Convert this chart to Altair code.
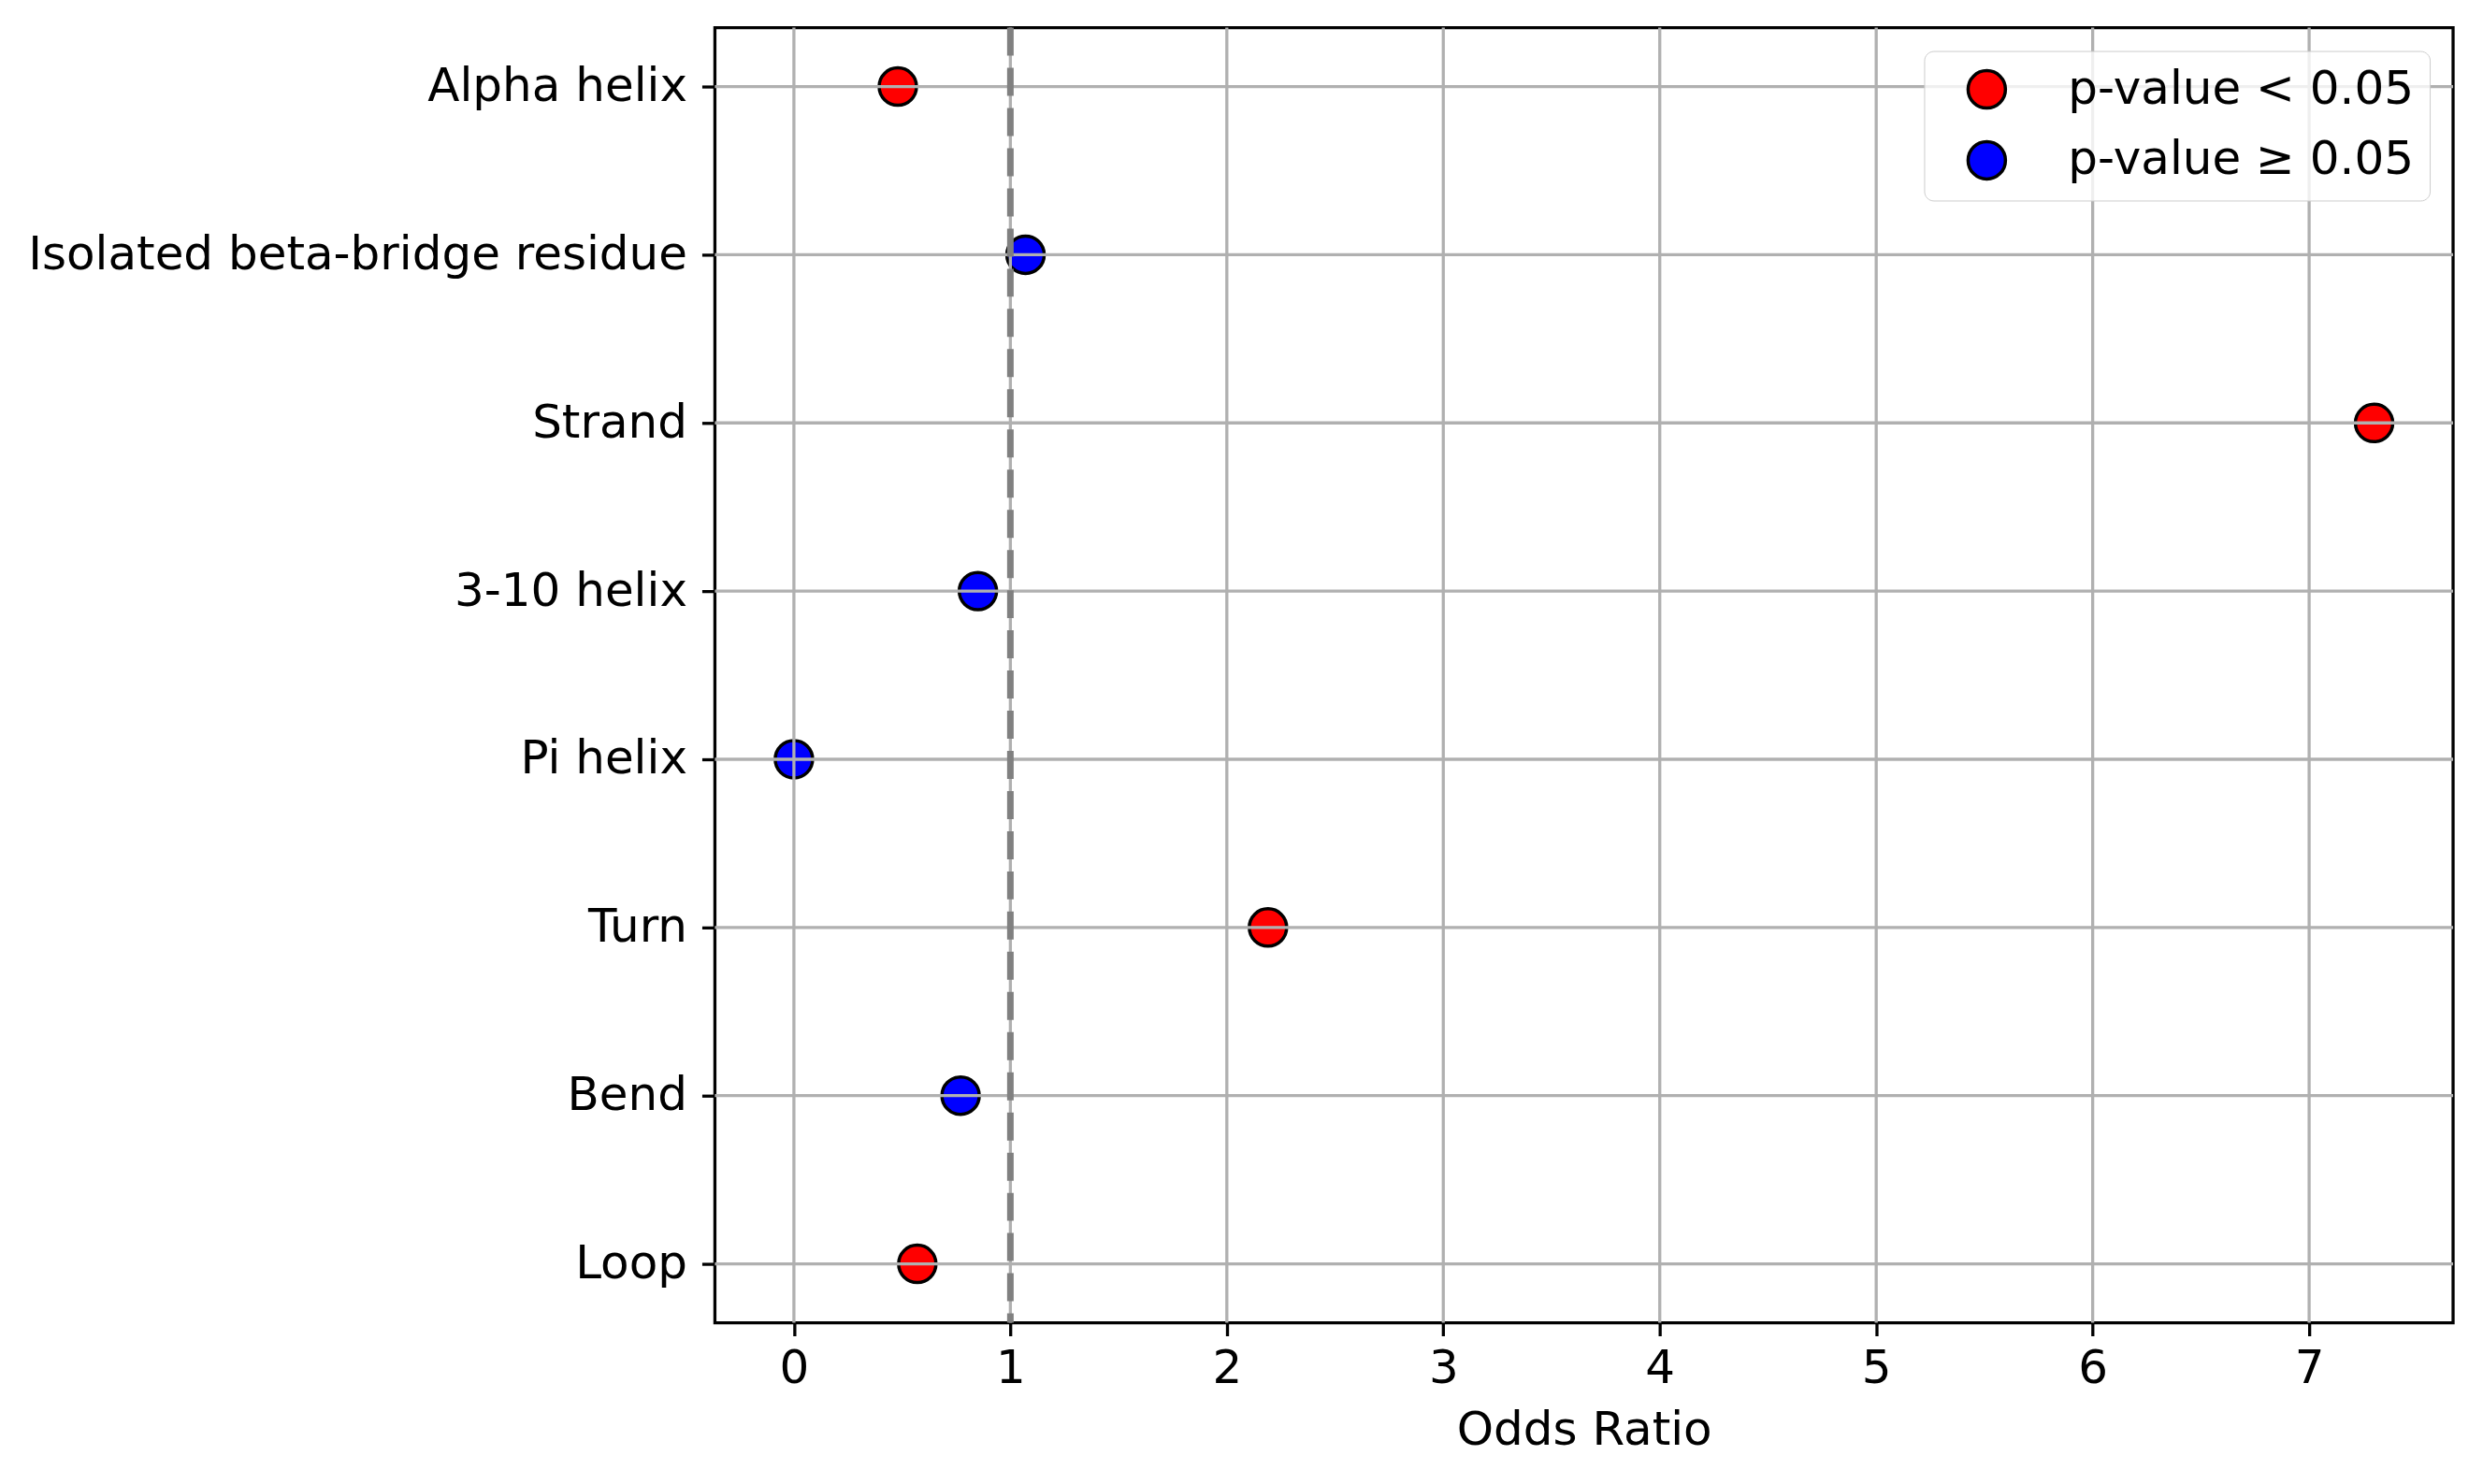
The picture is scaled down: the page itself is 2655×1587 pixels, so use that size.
import altair as alt
import pandas as pd

categories = ["Alpha helix", "Isolated beta-bridge residue", "Strand", "3-10 helix",
              "Pi helix", "Turn", "Bend", "Loop"]
odds_ratio = [0.48, 1.07, 7.30, 0.85, 0.00, 2.19, 0.77, 0.57]
significance = ["p-value < 0.05", "p-value ≥ 0.05", "p-value < 0.05", "p-value ≥ 0.05",
                "p-value ≥ 0.05", "p-value < 0.05", "p-value ≥ 0.05", "p-value < 0.05"]
sig_labels = ["p-value < 0.05", "p-value ≥ 0.05"]
sig_colors = ["#ff0000", "#0000ff"]
x_ticks = [0, 1, 2, 3, 4, 5, 6, 7]
reference_line = [1]

df = pd.DataFrame({"category": categories, "odds": odds_ratio, "sig": significance})
df_xt = pd.DataFrame({"x": x_ticks})
df_yt = pd.DataFrame({"category": categories})
df_ref = pd.DataFrame({"x": reference_line})

FONT = "DejaVu Sans"
FS = 50
x_scale = alt.Scale(domain=[-0.365, 7.665], nice=False, zero=False)
y_scale = alt.Scale(type="point", domain=categories, padding=0.35)

points = alt.Chart(df).mark_point(
    filled=True, size=1600, stroke="black", strokeWidth=3.5, opacity=1
).encode(
    x=alt.X("odds:Q", scale=x_scale,
            axis=alt.Axis(values=x_ticks, format="d", title="Odds Ratio",
                          labelPadding=10, titlePadding=16)),
    y=alt.Y("category:N", sort=categories, scale=y_scale,
            axis=alt.Axis(title=None, labelPadding=16, labelLimit=2000)),
    color=alt.Color("sig:N", scale=alt.Scale(domain=sig_labels, range=sig_colors),
                    legend=alt.Legend(title=None, orient="top-right", offset=25,
                                      padding=16, fillColor="rgba(255,255,255,0.8)",
                                      strokeColor="#cccccc", cornerRadius=10,
                                      labelFont=FONT, labelFontSize=FS, labelColor="black",
                                      labelLimit=2000,
                                      symbolType="circle", symbolSize=1600,
                                      symbolStrokeColor="black", symbolStrokeWidth=3.5,
                                      symbolOffset=26, labelOffset=62, rowPadding=22)),
)

vgrid = alt.Chart(df_xt).mark_rule(color="#b0b0b0", strokeWidth=3.3).encode(
    x=alt.X("x:Q", scale=x_scale)
)
hgrid = alt.Chart(df_yt).mark_rule(color="#b0b0b0", strokeWidth=3.3).encode(
    y=alt.Y("category:N", sort=categories, scale=y_scale)
)
ref = alt.Chart(df_ref).mark_rule(color="#808080", strokeWidth=7, strokeDash=[30, 13]).encode(
    x=alt.X("x:Q", scale=x_scale)
)

chart = alt.layer(points, vgrid, hgrid, ref).properties(
    width=1860, height=1386, background="white",
    padding={"left": 21, "top": 17, "right": 22, "bottom": 30},
).configure_view(
    stroke="black", strokeWidth=3.3
).configure_axis(
    labelFont=FONT, labelFontSize=FS, labelColor="black",
    titleFont=FONT, titleFontSize=FS, titleFontWeight="normal", titleColor="black",
    tickColor="black", tickSize=14, tickWidth=3.3, domain=False, grid=False,
)

chart.save("out.html", embed_options={"renderer": "svg", "actions": False})
